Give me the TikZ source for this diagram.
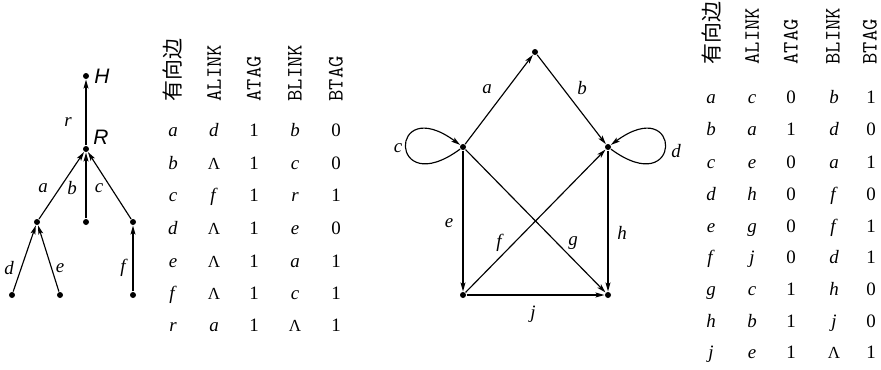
\documentclass[tikz,border=0pt]{standalone}
\usepackage{fontspec}
\setmainfont{Liberation Serif}
\newfontfamily\cjkfont{Noto Sans CJK SC}
\newfontfamily\labsans{Liberation Sans}
\usetikzlibrary{arrows.meta}
\newcommand\myit[1]{\textit{#1}}
\newcommand\nul{{\fontsize{17}{20}\selectfont Λ}}
\begin{document}
\begin{tikzpicture}[x=1bp,y=-1bp,
  >={Stealth[length=9bp,width=5bp,inset=2bp]},
  line width=1.15bp,
  dot/.style={circle,fill,inner sep=0pt,minimum size=6bp},
  lbl/.style={font=\fontsize{19}{22}\selectfont\itshape,inner sep=0pt},
  slbl/.style={font=\fontsize{21}{24}\selectfont\labsans\itshape,inner sep=0pt},
  cell/.style={font=\fontsize{19}{22}\selectfont,inner sep=0pt,text height=11bp,text depth=1bp},
  hdr/.style={font=\fontsize{22}{25}\selectfont\ttfamily,rotate=90,anchor=west,inner sep=0pt},
  chdr/.style={font=\fontsize{21}{24}\selectfont\cjkfont,rotate=90,anchor=west,inner sep=0pt}]
\useasboundingbox (0,0) rectangle (881,369);

% ---------- left tree ----------
\node[dot] (H) at (86,76) {};
\node[dot] (R) at (86,149) {};
\node[dot] (n1) at (37,222) {};
\node[dot] (n2) at (86,222) {};
\node[dot] (n3) at (133,222) {};
\node[dot] (n4) at (12,295) {};
\node[dot] (n5) at (60,295) {};
\node[dot] (n6) at (133,295) {};
\draw[->] (R) -- (H);
\draw[->] (n1) -- (R);
\draw[->] (n2) -- (R);
\draw[->] (n3) -- (R);
\draw[->] (n4) -- (n1);
\draw[->] (n5) -- (n1);
\draw[->] (n6) -- (n3);
\node[slbl] (lH) at (102,76) {H};
\node[slbl] (lR) at (101,137) {R};
\node[lbl] (lr) at (68,122) {r};
\node[lbl] (la) at (43,188) {a};
\node[lbl] (lb) at (72,188) {b};
\node[lbl] (lc) at (99,188) {c};
\node[lbl] (ld) at (9,268) {d};
\node[lbl] (le) at (60,268) {e};
\node[lbl] (lf) at (123,268) {f};

% ---------- left table ----------
\node[chdr] (LH1) at (173,102) {有向边};
\node[hdr] (LH2) at (214,102) {ALINK};
\node[hdr] (LH3) at (254,102) {ATAG};
\node[hdr] (LH4) at (295,102) {BLINK};
\node[hdr] (LH5) at (336,102) {BTAG};
\foreach \ya/\cA/\cB/\cC/\cD/\cE [count=\i] in
  {131/a/\myit{d}/1/\myit{b}/0,
   164/b/\nul/1/\myit{c}/0,
   196/c/\myit{f}/1/\myit{r}/1,
   229/d/\nul/1/\myit{e}/0,
   262/e/\nul/1/\myit{a}/1,
   294/f/\nul/1/\myit{c}/1,
   326/r/\myit{a}/1/\nul/1}{
  \node[cell] (La\i) at (173,\ya) {\myit{\cA}};
  \node[cell] (Lb\i) at (214,\ya) {\cB};
  \node[cell] (Lc\i) at (254,\ya) {\cC};
  \node[cell] (Ld\i) at (295,\ya) {\cD};
  \node[cell] (Le\i) at (336,\ya) {\cE};
}

% ---------- right graph ----------
\node[dot] (gT) at (535,52) {};
\node[dot] (gL) at (463,147) {};
\node[dot] (gR) at (608,147) {};
\node[dot] (gBL) at (463,295) {};
\node[dot] (gBR) at (608,295) {};
\draw[->] (gL) -- (gT);
\draw[->] (gT) -- (gR);
\draw[->] (gL) .. controls +(-75,55) and +(-75,-55) .. (gL);
\draw[->] (gR) .. controls +(75,55) and +(75,-55) .. (gR);
\draw[->] (gL) -- (gBL);
\draw[->] (gBL) -- (gR);
\draw[->] (gL) -- (gBR);
\draw[->] (gR) -- (gBR);
\draw[->] (gBL) -- (gBR);
\node[lbl] (ga) at (487,89) {a};
\node[lbl] (gb) at (582,88) {b};
\node[lbl] (gc) at (398,148) {c};
\node[lbl] (gd) at (676,151) {d};
\node[lbl] (ge) at (449,223) {e};
\node[lbl] (gf) at (499,243) {f};
\node[lbl] (gg) at (573,243) {g};
\node[lbl] (gh) at (622,233) {h};
\node[lbl] (gj) at (533,314) {j};

% ---------- right table ----------
\node[chdr] (RH1) at (712,65) {有向边};
\node[hdr] (RH2) at (752,65) {ALINK};
\node[hdr] (RH3) at (791,65) {ATAG};
\node[hdr] (RH4) at (833,65) {BLINK};
\node[hdr] (RH5) at (870,65) {BTAG};
\foreach \ya/\cA/\cB/\cC/\cD/\cE [count=\i] in
  {98/a/\myit{c}/0/\myit{b}/1,
   130/b/\myit{a}/1/\myit{d}/0,
   163/c/\myit{e}/0/\myit{a}/1,
   195/d/\myit{h}/0/\myit{f}/0,
   227/e/\myit{g}/0/\myit{f}/1,
   258/f/\myit{j}/0/\myit{d}/1,
   290/g/\myit{c}/1/\myit{h}/0,
   322/h/\myit{b}/1/\myit{j}/0,
   353/j/\myit{e}/1/\nul/1}{
  \node[cell] (Ra\i) at (711,\ya) {\myit{\cA}};
  \node[cell] (Rb\i) at (752,\ya) {\cB};
  \node[cell] (Rc\i) at (791,\ya) {\cC};
  \node[cell] (Rd\i) at (834,\ya) {\cD};
  \node[cell] (Re\i) at (871,\ya) {\cE};
}
\end{tikzpicture}
\end{document}
